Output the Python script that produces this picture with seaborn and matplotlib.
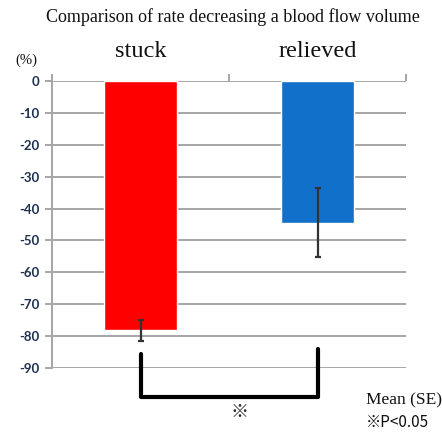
import matplotlib
matplotlib.use("Agg")
import matplotlib.pyplot as plt
import seaborn as sns
import numpy as np

categories = ["stuck", "relieved"]
means = [-78.2, -44.4]
se = [3.2, 10.8]
colors = ["#ff0000", "#1170c9"]
yticks = [0, -10, -20, -30, -40, -50, -60, -70, -80, -90]

sns.set_style("white")
plt.rcParams['font.family'] = ['DejaVu Sans']

fig = plt.figure(figsize=(4.42, 4.32), dpi=100)
ax = fig.add_axes([52/442, 1-368/432, (406-52)/442, (368-81)/432])

sns.barplot(x=categories, y=means, hue=categories, palette=colors, width=0.41,
            legend=False, ax=ax, saturation=1, zorder=3)
ax.errorbar(x=[0, 1], y=means, yerr=se, fmt='none', ecolor='#333333',
            elinewidth=1.6, capsize=2.5, capthick=1.6, zorder=4)

ax.set_xlim(-0.5, 1.5)
ax.set_ylim(-90, 0)
ax.set_yticks(yticks)
ax.set_yticklabels([str(v) for v in yticks], color='#1f3050', fontsize=9.5,
                   family='Lato', fontweight='bold')
ax.grid(axis='y', color='#a6a6a6', linewidth=1.4, zorder=0)
ax.grid(axis='x', visible=False)
for s in ['top', 'right', 'bottom']:
    ax.spines[s].set_visible(False)
ax.spines['left'].set_color('#a6a6a6')
ax.spines['left'].set_linewidth(1.4)
ax.tick_params(axis='y', left=True, length=5, width=1.4, color='#a6a6a6', pad=4)

# category labels on top
ax.xaxis.tick_top()
ax.set_xticks([0, 1])
ax.set_xticklabels(categories, fontsize=17.5, family='Liberation Serif', color='#111111')
ax.tick_params(axis='x', which='major', length=0, pad=14)
ax.set_xticks([-0.5, 0.5, 1.5], minor=True)
ax.tick_params(axis='x', which='minor', top=True, length=5, width=1.4, color='#a6a6a6', direction='out')
ax.set_xlabel("")
ax.set_ylabel("")

# significance bracket
ax.plot([0, 0, 1, 1], [-85.5, -99.1, -99.1, -84.0], color='black', linewidth=3,
        clip_on=False, solid_joinstyle='round', zorder=5)
ax.text(0.56, -103.8, "※", ha='center', va='center', fontsize=13, color='#222222',
        family=['Noto Sans CJK JP', 'DejaVu Sans'], clip_on=False)

fig.text(233/442, 1-17/432, "Comparison of rate decreasing a blood flow volume",
         ha='center', va='center', fontsize=13, family='Liberation Serif', color='#111111')
fig.text(26/442, 1-60/432, "(%)", ha='center', va='center', fontsize=10.5,
         family='Liberation Serif', color='#111111')
fig.text(366/442, 1-400/432, "Mean (SE)", ha='left', va='center', fontsize=12.5,
         family='Liberation Serif', color='#111111')
fig.text(366/442, 1-422/432, "※P<0.05", ha='left', va='center', fontsize=11,
         family=['Noto Sans CJK JP', 'DejaVu Sans'], color='#111111')

fig.savefig("out.png", dpi=100)
